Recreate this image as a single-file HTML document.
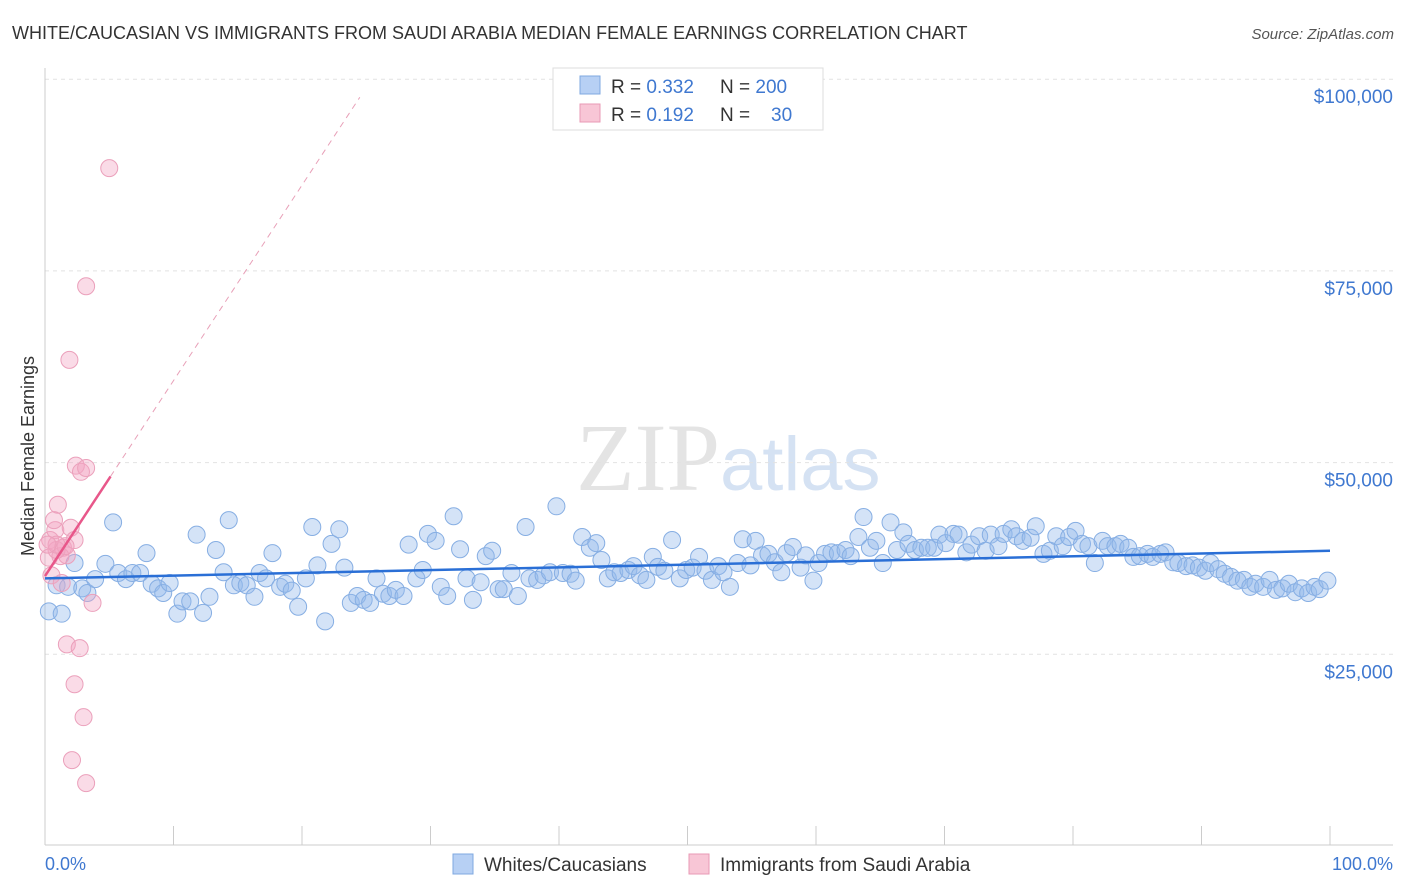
<!DOCTYPE html>
<html><head><meta charset="utf-8">
<style>
body{margin:0;background:#fff;font-family:"Liberation Sans",sans-serif;}
svg{display:block}
</style></head>
<body>
<svg id="chart" width="1406" height="892" xmlns="http://www.w3.org/2000/svg">
<text x="12" y="39" font-size="18" fill="#333">WHITE/CAUCASIAN VS IMMIGRANTS FROM SAUDI ARABIA MEDIAN FEMALE EARNINGS CORRELATION CHART</text>
<text x="1394" y="39" font-size="15" fill="#555" font-style="italic" text-anchor="end">Source: ZipAtlas.com</text>
<text x="720" y="490" font-size="96" fill="#e4e4e4" font-family="Liberation Serif" text-anchor="end">ZIP</text>
<text x="720" y="490" font-size="76" fill="#d5e2f3">atlas</text>
<g id="grid"></g>
<g id="axes"></g>
<g id="pts"></g>
<g id="trends"></g>
<text transform="translate(34,456) rotate(-90)" font-size="18" fill="#333" text-anchor="middle">Median Female Earnings</text>
<text x="45" y="870" font-size="18" fill="#3f78d0">0.0%</text>
<text x="1393" y="870" font-size="18" fill="#3f78d0" text-anchor="end">100.0%</text>
<g>
<rect x="553" y="68" width="270" height="62" fill="#fff" stroke="#ddd"/>
<rect x="580" y="76" width="20" height="18" fill="#b7d0f4" stroke="#7fa8e0"/>
<rect x="580" y="104" width="20" height="18" fill="#f8c6d6" stroke="#e89ab5"/>
<text x="611" y="93" font-size="19" fill="#333">R = <tspan fill="#3f78d0">0.332</tspan><tspan x="720">N = </tspan><tspan fill="#3f78d0">200</tspan></text>
<text x="611" y="121" font-size="19" fill="#333">R = <tspan fill="#3f78d0"> 0.192</tspan><tspan x="720">N = </tspan><tspan fill="#3f78d0" x="771">30</tspan></text>
</g>
<g>
<rect x="453" y="854" width="20" height="20" fill="#b7d0f4" stroke="#7fa8e0"/>
<text x="484" y="871" font-size="19" fill="#333">Whites/Caucasians</text>
<rect x="689" y="854" width="20" height="20" fill="#f8c6d6" stroke="#e89ab5"/>
<text x="720" y="871" font-size="19" fill="#333">Immigrants from Saudi Arabia</text>
</g>
</svg>
<script>
const yTicks=[25000,50000,75000,100000];
const yTickLabels=["$25,000","$50,000","$75,000","$100,000"];
const xTicks=[0,10,20,30,40,50,60,70,80,90,100];
const blueX=[0.3,0.9,1.3,1.8,2.3,2.9,3.3,3.9,4.7,5.3,5.7,6.3,6.8,7.4,7.9,8.3,8.8,9.2,9.7,10.3,10.7,11.3,11.8,12.3,12.8,13.3,13.9,14.3,14.7,15.2,15.7,16.3,16.7,17.2,17.7,18.3,18.7,19.2,19.7,20.3,20.8,21.2,21.8,22.3,22.9,23.3,23.8,24.3,24.8,25.3,25.8,26.3,26.8,27.3,27.9,28.3,28.9,29.4,29.8,30.4,30.8,31.3,31.8,32.3,32.8,33.3,33.9,34.3,34.8,35.3,35.7,36.3,36.8,37.4,37.7,38.3,38.8,39.3,39.8,40.3,40.9,41.3,41.8,42.4,42.9,43.3,43.8,44.3,44.8,45.4,45.8,46.3,46.8,47.3,47.7,48.2,48.8,49.4,49.9,50.4,50.9,51.4,51.9,52.4,52.8,53.3,53.9,54.3,54.9,55.3,55.8,56.3,56.8,57.3,57.7,58.2,58.8,59.2,59.8,60.2,60.7,61.2,61.7,62.3,62.7,63.3,63.7,64.2,64.7,65.2,65.8,66.3,66.8,67.2,67.7,68.2,68.7,69.2,69.6,70.1,70.7,71.1,71.7,72.1,72.7,73.2,73.6,74.2,74.6,75.2,75.6,76.1,76.7,77.1,77.7,78.2,78.7,79.2,79.7,80.2,80.7,81.2,81.7,82.3,82.7,83.3,83.7,84.3,84.7,85.2,85.8,86.2,86.8,87.2,87.8,88.2,88.8,89.3,89.8,90.3,90.7,91.3,91.8,92.3,92.8,93.3,93.8,94.2,94.8,95.3,95.8,96.3,96.8,97.3,97.8,98.3,98.8,99.2,99.8];
const blueY=[30.6,34.0,30.3,33.8,36.9,33.6,33.0,34.8,36.8,42.2,35.6,34.8,35.6,35.6,38.2,34.2,33.6,33.0,34.3,30.3,31.9,31.9,40.6,30.4,32.5,38.6,35.7,42.5,34.0,34.3,34.0,32.5,35.6,34.9,38.2,33.8,34.2,33.3,31.2,34.9,41.6,36.6,29.3,39.4,41.3,36.3,31.7,32.6,32.1,31.7,34.9,32.9,32.6,33.4,32.6,39.3,34.9,36.0,40.7,39.8,33.8,32.6,43.0,38.7,34.9,32.1,34.4,37.8,38.5,33.5,33.5,35.6,32.6,41.6,34.9,34.7,35.3,35.7,44.3,35.6,35.5,34.6,40.3,38.9,39.5,37.3,34.9,35.7,35.6,36.0,36.5,35.3,34.7,37.7,36.4,35.9,39.9,34.9,36.0,36.3,37.7,35.9,34.7,36.5,35.7,33.8,36.9,40.0,36.6,39.8,37.9,38.1,37.0,35.7,38.2,39.0,36.3,37.9,34.6,36.9,38.1,38.3,38.2,38.6,37.8,40.3,42.9,38.9,39.8,36.9,42.2,38.6,40.9,39.4,38.6,38.9,38.9,38.9,40.6,39.5,40.7,40.6,38.3,39.3,40.4,38.5,40.6,39.1,40.7,41.3,40.4,39.8,40.2,41.7,38.1,38.5,40.4,39.1,40.3,41.1,39.4,39.1,36.9,39.8,39.1,39.1,39.4,38.9,37.7,37.8,38.1,37.7,38.1,38.3,37.0,36.9,36.5,36.6,36.3,35.9,36.9,36.1,35.5,35.1,34.6,34.7,33.8,34.2,33.8,34.7,33.4,33.6,34.2,33.1,33.6,33.0,33.8,33.5,34.6];
const pinkX=[0.4,0.8,0.5,0.3,1.0,1.4,1.7,2.0,2.3,1.2,0.7,0.9,1.6,2.4,2.8,3.2,5.0,3.2,1.9,3.7,1.7,2.7,2.3,3.0,2.1,3.2,1.3,0.9,0.2];
const pinkY=[39.9,41.2,35.3,37.6,44.5,38.9,37.9,41.5,39.9,37.8,42.5,38.6,39.1,49.6,48.8,49.3,88.4,73.0,63.4,31.7,26.3,25.8,21.1,16.8,11.2,8.2,34.3,39.3,39.3];
const blueTrend=[34.9,38.5];
const pinkTrend=[35.2,48.2];
const pinkTrendEndX=5.1, pinkDashEndX=24.5;

const NS="http://www.w3.org/2000/svg";
const X0=45,X1=1330,YB=846,PXPER=191.7/25000;
const sx=v=>X0+(X1-X0)*v/100;
const sy=v=>YB-v*PXPER;
function mk(tag,attrs,parent){const e=document.createElementNS(NS,tag);for(const k in attrs)e.setAttribute(k,attrs[k]);parent.appendChild(e);return e;}
const grid=document.getElementById('grid'),axes=document.getElementById('axes'),pts=document.getElementById('pts'),tr=document.getElementById('trends');
yTicks.forEach((t,i)=>{
 const l=mk('line',{x1:45,x2:1393,y1:sy(t),y2:sy(t),stroke:'#e2e2e2','stroke-dasharray':'4,4'},grid);
 
 
 const tx=mk('text',{x:1393,y:sy(t)+24,'font-size':19,fill:'#3f78d0','text-anchor':'end'},grid);
 tx.textContent=yTickLabels[i];
 
 
});
const ax=mk('line',{x1:45,x2:1393,y1:845,y2:845,stroke:'#ccc'},axes);


const ay=mk('line',{x1:45,x2:45,y1:68,y2:845,stroke:'#ccc'},axes);


xTicks.forEach(t=>{
 const l=mk('line',{x1:sx(t),x2:sx(t),y1:826,y2:845,stroke:'#ccc'},axes);
 
 
});
blueX.forEach((x,i)=>{
 const c=mk('circle',{cx:sx(x),cy:sy(blueY[i]*1000),r:8.5,fill:'rgba(147,185,235,0.4)',stroke:'#86aee3','stroke-width':1},pts);
 
 
});
pinkX.forEach((x,i)=>{
 const c=mk('circle',{cx:sx(x),cy:sy(pinkY[i]*1000),r:8.5,fill:'rgba(242,165,195,0.4)',stroke:'#eba0bb','stroke-width':1},pts);
 
 
});
const bt=mk('line',{x1:sx(0),y1:sy(blueTrend[0]*1000),x2:sx(100),y2:sy(blueTrend[1]*1000),stroke:'#2a6fd6','stroke-width':2.5},tr);


const slope=(pinkTrend[1]-pinkTrend[0])/pinkTrendEndX;
const pt=mk('line',{x1:sx(0),y1:sy(pinkTrend[0]*1000),x2:sx(pinkTrendEndX),y2:sy(pinkTrend[1]*1000),stroke:'#e8578a','stroke-width':2.5},tr);


const pd=mk('line',{x1:sx(pinkTrendEndX),y1:sy(pinkTrend[1]*1000),x2:sx(pinkDashEndX),y2:sy((pinkTrend[0]+slope*pinkDashEndX)*1000),stroke:'#e8a0b8','stroke-width':1,'stroke-dasharray':'6,5'},tr);


</script>
</body></html>
